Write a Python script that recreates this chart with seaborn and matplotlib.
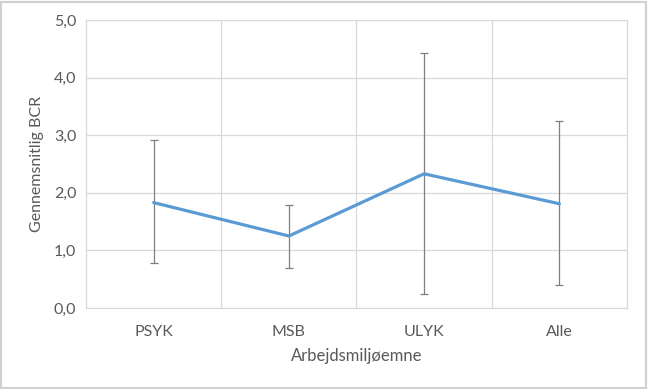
import pandas as pd
import numpy as np
import seaborn as sns
from matplotlib import pyplot as plt
from matplotlib.patches import Rectangle
from matplotlib.ticker import FuncFormatter, FixedLocator

# data
categories = ["PSYK", "MSB", "ULYK", "Alle"]
mean_bcr = [1.83, 1.25, 2.33, 1.81]
err_low = [0.78, 0.70, 0.24, 0.40]
err_high = [2.92, 1.79, 4.43, 3.25]

df = pd.DataFrame({"pos": np.arange(len(categories)), "category": categories,
                   "bcr": mean_bcr, "low": err_low, "high": err_high})

sns.set_style("white")
plt.rcParams["font.family"] = ["Lato", "DejaVu Sans"]
text_col = "#595959"
grid_col = "#d9d9d9"

fig = plt.figure(figsize=(6.48, 3.89), dpi=100)
ax = fig.add_axes([0.1327, 0.2082, 0.8349, 0.7404])

# error bars
ax.errorbar(df["pos"], df["bcr"],
            yerr=[df["bcr"] - df["low"], df["high"] - df["bcr"]],
            fmt="none", ecolor="#7f7f7f", elinewidth=0.9, capsize=3.2, capthick=0.9, zorder=2)

# mean line
sns.lineplot(data=df, x="pos", y="bcr", color="#5B9BD5", linewidth=2.3, ax=ax, zorder=3)

ax.set_xlim(-0.5, len(categories) - 0.5)
ax.set_ylim(0, 5)
ax.set_yticks(np.arange(0, 5.01, 1.0))
ax.yaxis.set_major_formatter(FuncFormatter(lambda v, p: f"{v:.1f}".replace(".", ",")))
ax.set_xticks(df["pos"])
ax.set_xticklabels(categories)
ax.xaxis.set_minor_locator(FixedLocator([0.5, 1.5, 2.5]))

ax.grid(axis="y", which="major", color=grid_col, linewidth=0.9)
ax.grid(axis="x", which="minor", color=grid_col, linewidth=0.9)
ax.grid(axis="x", which="major", visible=False)
for s in ax.spines.values():
    s.set_color(grid_col)
    s.set_linewidth(0.9)

ax.tick_params(axis="both", which="both", length=0, colors=text_col, labelsize=11.5)
ax.tick_params(axis="x", pad=12)
ax.tick_params(axis="y", pad=7)

ax.set_xlabel("Arbejdsmiljøemne", color=text_col, fontsize=12, labelpad=7)
ax.set_ylabel("Gennemsnitlig BCR", color=text_col, fontsize=11.5, labelpad=7)

# outer chart border
fig.patches.append(Rectangle((0.002, 0.003), 0.995, 0.993, transform=fig.transFigure,
                             fill=False, edgecolor="#d0d0d0", linewidth=1.5))

fig.savefig("out.png", dpi=100)
